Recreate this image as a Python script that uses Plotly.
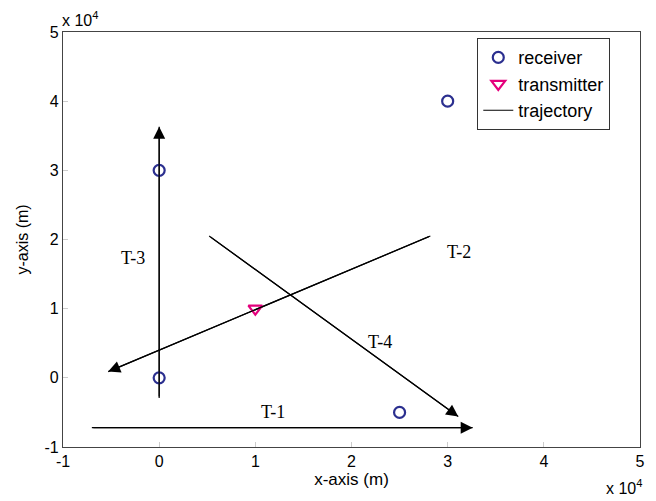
import plotly.graph_objects as go

SCALE = 1e4
# receivers (m)
rx_x = [0, 0, 25000, 30000]
rx_y = [0, 30000, -5000, 40000]
# transmitter (m)
tx_x = [10000]
tx_y = [10000]
# trajectories: name, start (x,y), end (x,y) in m
traj_names = ["T-1", "T-2", "T-3", "T-4"]
traj_x0 = [-7000, 28200, 0, 5200]
traj_y0 = [-7200, 20500, -2900, 20500]
traj_x1 = [32600, -5300, 0, 31100]
traj_y1 = [-7200, 900, 36300, -5600]
# label positions (m)
lab_x = [11800, 31200, -2700, 23000]
lab_y = [-4900, 18200, 17300, 5200]
tick_vals = [-1, 0, 1, 2, 3, 4, 5]

fig = go.Figure()
for i in range(len(traj_names)):
    fig.add_trace(go.Scatter(
        x=[traj_x0[i], traj_x1[i]], y=[traj_y0[i], traj_y1[i]], mode="lines",
        line=dict(color="black", width=1.2), name="trajectory",
        legendgroup="traj", showlegend=(i == 0), legendrank=3))
    fig.add_annotation(x=traj_x1[i], y=traj_y1[i], ax=traj_x0[i], ay=traj_y0[i],
                       xref="x", yref="y", axref="x", ayref="y", text="",
                       showarrow=True, arrowhead=2, arrowsize=2.0, arrowwidth=1.2,
                       arrowcolor="black", standoff=0)
    fig.add_annotation(x=lab_x[i], y=lab_y[i], text=traj_names[i], showarrow=False,
                       font=dict(family="Liberation Serif", size=18, color="black"))

fig.add_trace(go.Scatter(x=rx_x, y=rx_y, mode="markers", name="receiver", legendrank=1,
                         marker=dict(symbol="circle-open", size=11, color="#2b2f8f",
                                     line=dict(width=2.2, color="#2b2f8f"))))
fig.add_trace(go.Scatter(x=tx_x, y=tx_y, mode="markers", name="transmitter", legendrank=2,
                         marker=dict(symbol="triangle-down-open", size=12, color="#e4007c",
                                     line=dict(width=2.2, color="#e4007c"))))

axis_common = dict(
    showgrid=False, zeroline=False, showline=True, linecolor="#444", linewidth=1.3,
    mirror=True, ticks="inside", ticklen=5, tickcolor="#ccc",
    tickvals=[v * SCALE for v in tick_vals], ticktext=[str(v) for v in tick_vals],
    tickfont=dict(family="Liberation Sans", size=16, color="black"),
)
fig.update_xaxes(range=[-1 * SCALE, 5 * SCALE], **axis_common,
                 title=dict(text="x-axis (m)", standoff=3,
                            font=dict(family="Liberation Sans", size=17, color="black")))
fig.update_yaxes(range=[-1 * SCALE, 5 * SCALE], **axis_common,
                 title=dict(text="y-axis (m)", standoff=11,
                            font=dict(family="Liberation Sans", size=16, color="black")))

fig.add_annotation(x=0, y=1, xref="paper", yref="paper", xanchor="left", yanchor="bottom",
                   yshift=1, xshift=-3, text="x 10<sup>4</sup>", showarrow=False,
                   font=dict(family="Liberation Sans", size=16, color="black"))
fig.add_annotation(x=1, y=0, xref="paper", yref="paper", xanchor="right", yanchor="top",
                   yshift=-28, xshift=4, text="x 10<sup>4</sup>", showarrow=False,
                   font=dict(family="Liberation Sans", size=16, color="black"))

fig.update_layout(
    width=648, height=493, paper_bgcolor="white", plot_bgcolor="white",
    margin=dict(l=55, r=16, t=24, b=54),
    legend=dict(x=0.718, y=0.985, xanchor="left", yanchor="top",
                bgcolor="white", bordercolor="#333", borderwidth=1,
                font=dict(family="Liberation Sans", size=18, color="black"),
                tracegroupgap=0),
)
fig.write_html("out.html")
